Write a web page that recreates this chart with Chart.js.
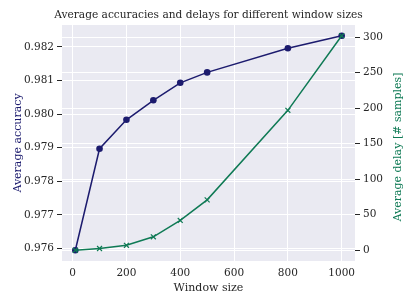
<!DOCTYPE html>
<html>
<head>
<meta charset="utf-8">
<script src="https://cdn.jsdelivr.net/npm/chart.js@4/dist/chart.umd.min.js"></script>
<style>
  html, body { margin: 0; padding: 0; background: #fff; }
</style>
</head>
<body>
<canvas id="myChart" width="407" height="305"></canvas>
<script>
// data
const windowSizes = [10, 100, 200, 300, 400, 500, 800, 1000];
const accuracy = [0.97595, 0.97897, 0.97983, 0.98041, 0.98093, 0.98124, 0.98196, 0.98233];
const delay = [0, 2.5, 7, 19, 42, 71, 197, 302];
const xTicks = [0, 200, 400, 600, 800, 1000];
const accTicks = [0.976, 0.977, 0.978, 0.979, 0.980, 0.981, 0.982];
const delayTicks = [0, 50, 100, 150, 200, 250, 300];

const navy = '#1c1b6e';
const green = '#0f7a55';
const textCol = '#262626';
const font = { family: 'DejaVu Serif', size: 10.5 };
const labelFont = { family: 'DejaVu Serif', size: 11 };

function setTicks(list) {
  return function (scale) {
    scale.ticks = list.map(v => ({ value: v }));
  };
}

function drawText(chart, text, x, y, rot, color, f) {
  const c = chart.ctx;
  c.save();
  c.translate(x, y);
  c.rotate(rot);
  c.fillStyle = color;
  c.font = f.size + 'px "' + f.family + '"';
  c.textAlign = 'center';
  c.textBaseline = 'middle';
  c.fillText(text, 0, 0);
  c.restore();
}

window.addEventListener('load', function () {
  const ctx = document.getElementById('myChart');
  const myChart = new Chart(ctx, {
    type: 'line',
    data: {
      datasets: [{
        label: 'Average delay',
        data: windowSizes.map((x, i) => ({ x: x, y: delay[i] })),
        yAxisID: 'yDelay',
        borderColor: green,
        backgroundColor: green,
        borderWidth: 1.5,
        pointStyle: 'crossRot',
        pointRadius: 3.5,
        pointBorderWidth: 1.2,
        tension: 0
      }, {
        label: 'Average accuracy',
        data: windowSizes.map((x, i) => ({ x: x, y: accuracy[i] })),
        yAxisID: 'yAcc',
        borderColor: navy,
        backgroundColor: navy,
        borderWidth: 1.5,
        pointStyle: 'circle',
        pointRadius: 3.3,
        pointBorderWidth: 0,
        tension: 0
      }]
    },
    options: {
      responsive: false,
      devicePixelRatio: 1,
      animation: false,
      layout: { padding: { top: 25 } },
      plugins: {
        legend: { display: false },
        tooltip: { enabled: false },
        title: { display: false }
      },
      scales: {
        x: {
          type: 'linear',
          min: -39.5,
          max: 1049.5,
          afterBuildTicks: setTicks(xTicks),
          afterFit: function (scale) { scale.height = 44; },
          border: { display: false },
          grid: { color: '#ffffff', lineWidth: 1, drawTicks: false },
          ticks: { color: textCol, font: font, padding: 6, maxRotation: 0, callback: v => String(v) },
          title: { display: true, text: 'Window size', color: textCol, font: labelFont, padding: { top: 1, bottom: 10 } }
        },
        yAcc: {
          type: 'linear',
          position: 'left',
          min: 0.97563,
          max: 0.98265,
          afterBuildTicks: setTicks(accTicks),
          afterFit: function (scale) { scale.width = 62; },
          border: { display: false },
          grid: { color: '#ffffff', lineWidth: 1, tickColor: textCol, tickLength: 5 },
          ticks: { color: textCol, font: font, padding: 3, callback: v => v.toFixed(3) },
          title: { display: true, text: 'Average accuracy', color: navy, font: labelFont, padding: { top: 12, bottom: 0 } }
        },
        yDelay: {
          type: 'linear',
          position: 'right',
          min: -15.1,
          max: 317.1,
          afterBuildTicks: setTicks(delayTicks),
          afterFit: function (scale) { scale.width = 52; },
          border: { display: false },
          grid: { color: '#ffffff', lineWidth: 1, tickColor: textCol, tickLength: 5 },
          ticks: { color: textCol, font: font, padding: 3 }
        }
      }
    },
    plugins: [{
      id: 'bg',
      beforeDraw: function (chart) {
        const a = chart.chartArea;
        chart.ctx.save();
        chart.ctx.fillStyle = '#eaeaf2';
        chart.ctx.fillRect(a.left, a.top, a.right - a.left, a.bottom - a.top);
        chart.ctx.restore();
      }
    }, {
      // title centred over the plot, right axis label reading bottom to top
      id: 'texts',
      afterDraw: function (chart) {
        const a = chart.chartArea;
        drawText(chart, 'Average accuracies and delays for different window sizes',
          (a.left + a.right) / 2, 15, 0, textCol, { family: 'DejaVu Serif', size: 10.6 });
        drawText(chart, 'Average delay [# samples]', 398, (a.top + a.bottom) / 2 + 4,
          -Math.PI / 2, green, labelFont);
      }
    }]
  });
});
</script>
</body>
</html>
